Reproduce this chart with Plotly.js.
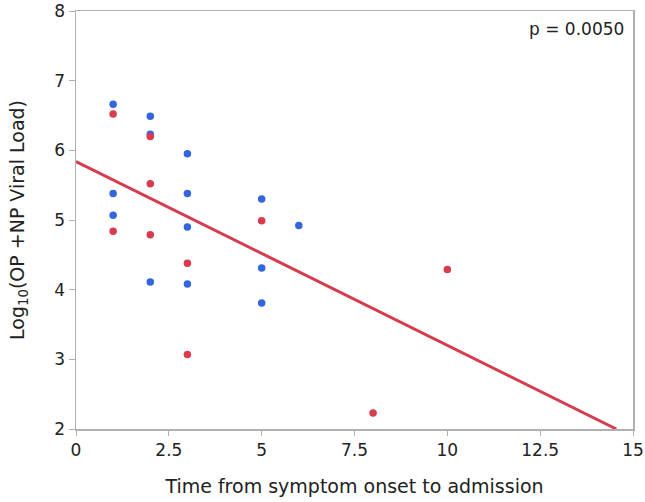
<!DOCTYPE html>
<html>
<head>
<meta charset="utf-8">
<script src="https://cdn.plot.ly/plotly-3.0.1.min.js"></script>
<style>html,body{margin:0;padding:0;background:#fff;}#chart{width:645px;height:502px;}</style>
</head>
<body>
<div id="chart"></div>
<script>
// Blue group
var blueX = [1, 1, 1, 2, 2, 2, 3, 3, 3, 3, 5, 5, 5, 6];
var blueY = [6.66, 5.38, 5.07, 6.49, 6.23, 4.11, 5.95, 5.38, 4.90, 4.08, 5.30, 4.31, 3.81, 4.92];
// Red group
var redX = [1, 1, 2, 2, 2, 3, 3, 5, 8, 10];
var redY = [6.52, 4.84, 6.20, 5.52, 4.79, 4.38, 3.07, 4.99, 2.23, 4.29];
// Regression line
var fitX = [0, 14.55];
var fitY = [5.84, 2.0];
var xTicks = [0, 2.5, 5, 7.5, 10, 12.5, 15];
var xTickText = ["0", "2.5", "5", "7.5", "10", "12.5", "15"];
var yTicks = [2, 3, 4, 5, 6, 7, 8];
var yTickText = ["2", "3", "4", "5", "6", "7", "8"];
var pText = "p = 0.0050";

var FONT = "DejaVu Sans, Verdana, sans-serif";
var traces = [
  {x: fitX, y: fitY, mode: "lines", line: {color: "#d63b4e", width: 3}, hoverinfo: "skip"},
  {x: blueX, y: blueY, mode: "markers", marker: {color: "#3366dd", size: 7.5}},
  {x: redX, y: redY, mode: "markers", marker: {color: "#d93a4e", size: 7.5}}
];
var layout = {
  width: 645, height: 502,
  margin: {l: 76, r: 12, t: 11, b: 73},
  showlegend: false,
  paper_bgcolor: "#fff", plot_bgcolor: "#fff",
  font: {family: FONT, color: "#222"},
  xaxis: {
    range: [0, 15], tickvals: xTicks, ticktext: xTickText,
    showgrid: false, zeroline: false,
    showline: true, linecolor: "#b0b0b0", linewidth: 1.5, mirror: true,
    ticks: "outside", ticklen: 5, tickcolor: "#b0b0b0",
    tickfont: {size: 17, color: "#222"},
    title: {text: "Time from symptom onset to admission", font: {size: 19, color: "#222"}, standoff: 21}
  },
  yaxis: {
    range: [2, 8.0001], tickvals: yTicks, ticktext: yTickText,
    showgrid: false, zeroline: false,
    showline: true, linecolor: "#b0b0b0", linewidth: 1.5, mirror: true,
    ticks: "outside", ticklen: 6, tickcolor: "#b0b0b0",
    tickfont: {size: 17, color: "#222"},
    title: {text: "Log<sub>10</sub>(OP +NP Viral Load)", font: {size: 19, color: "#222"}, standoff: 24}
  },
  annotations: [{
    text: pText, xref: "paper", yref: "paper", x: 0.987, y: 0.985,
    xanchor: "right", yanchor: "top", showarrow: false,
    font: {size: 17, color: "#222", family: FONT}
  }]
};
Plotly.newPlot("chart", traces, layout, {displayModeBar: false, staticPlot: true});
</script>
</body>
</html>
